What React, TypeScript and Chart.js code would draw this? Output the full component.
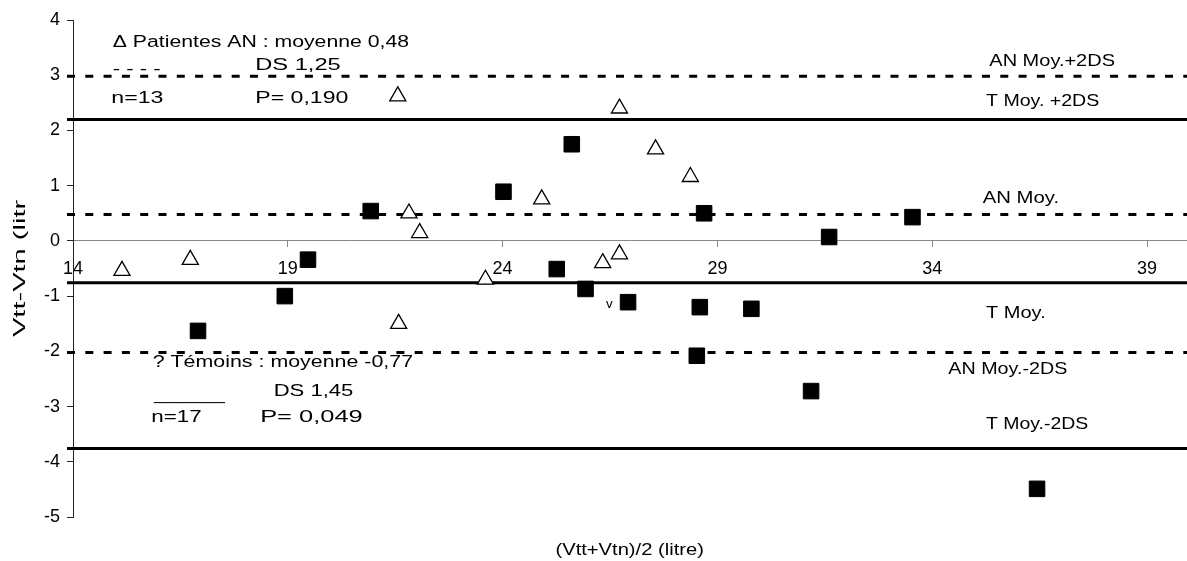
import React, { useEffect, useRef } from 'react';
import { Chart, registerables } from 'chart.js';

Chart.register(...registerables);

// Patientes AN (open triangles)
const anX = [15.14, 16.73, 21.56, 21.58, 21.82, 22.07, 23.6, 24.91, 26.33, 26.72, 26.72, 27.56, 28.37];
const anY = [-0.54, -0.34, 2.62, -1.5, 0.5, 0.145, -0.7, 0.755, -0.4, 2.4, -0.24, 1.66, 1.16];

// Témoins (filled squares)
const tX = [16.91, 18.93, 19.47, 20.93, 24.02, 25.61, 25.26, 25.93, 26.92, 28.69, 28.59, 29.79, 28.52, 31.6, 31.18, 33.54, 36.44];
const tY = [-1.63, -1.0, -0.34, 0.54, 0.89, 1.75, -0.51, -0.87, -1.11, 0.5, -1.2, -1.23, -2.08, 0.07, -2.72, 0.43, -4.49];

// Reference lines (mean / mean ± 2 SD)
const refLabels = ['AN Moy.+2DS', 'T Moy. +2DS', 'AN Moy.', 'T Moy.', 'AN Moy.-2DS', 'T Moy.-2DS'];
const refValues = [2.98, 2.2, 0.48, -0.76, -2.02, -3.76];
const refDashed = [true, false, true, false, true, false];
const lineXStart = 13.86;
const lineXEnd = 39.93;

// Axes
const xTicks = [14, 19, 24, 29, 34, 39];
const xMin = 14;
const xMax = 39.93;
const yMin = -5;
const yMax = 4;
const yStep = 1;

const xTitle = '(Vtt+Vtn)/2 (litre)';
const yTitle = 'Vtt-Vtn (litre)';

const anText = ['\u0394 Patientes AN : moyenne 0,48', '- - - -', 'DS 1,25', 'n=13', 'P= 0,190'];
const tText = ['? T\u00e9moins : moyenne -0,77', '______', 'DS 1,45', 'n=17', 'P= 0,049'];

const FONT = '"Liberation Sans", Arial, sans-serif';

function fitText(ctx: CanvasRenderingContext2D, text: string, left: number, right: number, baseline: number, size: number) {
  ctx.save();
  ctx.font = `${size}px ${FONT}`;
  ctx.textAlign = 'left';
  ctx.textBaseline = 'alphabetic';
  const m = ctx.measureText(text);
  const inkW = m.actualBoundingBoxRight + m.actualBoundingBoxLeft;
  const sx = inkW > 0 ? (right - left) / inkW : 1;
  ctx.translate(left, baseline);
  ctx.scale(sx, 1);
  ctx.fillStyle = '#000';
  ctx.fillText(text, m.actualBoundingBoxLeft, 0);
  ctx.restore();
}

const annotPlugin = {
  id: 'annotText',
  afterDatasetsDraw(chart: any) {
    const ctx: CanvasRenderingContext2D = chart.ctx;
    // AN block
    fitText(ctx, anText[0], 112.7, 409, 46.7, 16.3);
    fitText(ctx, anText[1], 112.7, 160, 74.4, 16.3);
    fitText(ctx, anText[2], 256.7, 340.7, 70, 16.3);
    fitText(ctx, anText[3], 112.7, 163.3, 103.3, 16.3);
    fitText(ctx, anText[4], 256.7, 348.3, 103.3, 16.3);
    // Témoins block
    fitText(ctx, tText[0], 152.7, 413, 367.3, 16.3);
    fitText(ctx, tText[1], 152.7, 226, 400.3, 16.3);
    fitText(ctx, tText[2], 275, 353.3, 395.7, 16.3);
    fitText(ctx, tText[3], 152.7, 201.7, 422.3, 16.3);
    fitText(ctx, tText[4], 261.7, 362.7, 422.3, 16.3);
    // right labels for reference lines
    const pos = [
      [989.3, 1115, 66],
      [986, 1099.3, 106],
      [982.7, 1058.3, 203.3],
      [986, 1045, 318.3],
      [948.3, 1067.3, 374],
      [986, 1088.3, 429.3],
    ];
    refLabels.forEach((lab, i) => fitText(ctx, lab, pos[i][0], pos[i][1], pos[i][2], 16.5));
    // stray mark
    fitText(ctx, 'v', 606, 612.7, 308.3, 12);
    // x title
    fitText(ctx, xTitle, 556.7, 703.3, 555, 16.5);
    // y title (rotated, clipped at top)
    ctx.save();
    ctx.beginPath();
    ctx.rect(0, 199, 60, 362);
    ctx.clip();
    ctx.font = `16.5px ${FONT}`;
    const part = ctx.measureText('Vtt-Vtn (litr');
    const inkW = part.actualBoundingBoxRight + part.actualBoundingBoxLeft;
    const sx = 138 / inkW;
    ctx.translate(25, 337);
    ctx.rotate(-Math.PI / 2);
    ctx.scale(sx, 1);
    ctx.fillStyle = '#000';
    ctx.textAlign = 'left';
    ctx.textBaseline = 'alphabetic';
    ctx.fillText(yTitle, part.actualBoundingBoxLeft, 0);
    ctx.restore();
  },
};

export default function App() {
  const ref = useRef<HTMLCanvasElement | null>(null);

  useEffect(() => {
    if (!ref.current) return;
    const tickFont = { family: FONT, size: 18 };
    const lineSets = refValues.map((v, i) => ({
      label: refLabels[i],
      data: [
        { x: lineXStart, y: v },
        { x: lineXEnd, y: v },
      ],
      showLine: true,
      borderColor: '#000',
      backgroundColor: '#000',
      borderWidth: 3,
      borderDash: refDashed[i] ? [8, 10.3] : [],
      borderCapStyle: 'butt' as const,
      pointRadius: 0,
      pointHoverRadius: 0,
      clip: false as const,
      order: 3,
    }));
    const chart = new Chart(ref.current, {
      type: 'scatter',
      data: {
        datasets: [
          {
            label: 'T\u00e9moins',
            data: tX.map((x, i) => ({ x, y: tY[i] })),
            pointStyle: 'rect',
            pointRadius: 11,
            backgroundColor: '#000',
            borderColor: '#000',
            borderWidth: 1,
            order: 1,
          },
          {
            label: 'Patientes AN',
            data: anX.map((x, i) => ({ x, y: anY[i] })),
            pointStyle: 'triangle',
            pointRadius: 9.3,
            backgroundColor: '#fff',
            borderColor: '#000',
            borderWidth: 1.3,
            order: 2,
          },
          ...lineSets,
        ] as any,
      },
      options: {
        animation: false,
        responsive: false,
        devicePixelRatio: 1,
        layout: { autoPadding: false, padding: { top: 20, bottom: 44, left: 0, right: 0 } },
        plugins: {
          legend: { display: false },
          tooltip: { enabled: false },
          title: { display: false },
        },
        events: [],
        scales: {
          x: {
            type: 'linear',
            min: xMin,
            max: xMax,
            position: { y: 0 } as any,
            afterBuildTicks: (s: any) => {
              s.ticks = xTicks.map((v) => ({ value: v }));
            },
            afterFit: (s: any) => {
              s.paddingLeft = 0;
              s.paddingRight = 0;
            },
            ticks: {
              font: tickFont,
              color: '#000',
              padding: 11,
              autoSkip: false,
              maxRotation: 0,
              callback: (v: any) => String(v),
            },
            grid: { display: true, drawOnChartArea: false, drawTicks: true, tickLength: 6, color: '#888' },
            border: { display: true, color: '#888', width: 1 },
          },
          y: {
            type: 'linear',
            min: yMin,
            max: yMax,
            ticks: {
              stepSize: yStep,
              font: tickFont,
              color: '#000',
              padding: 7,
              callback: (v: any) => String(v),
            },
            grid: { display: true, drawOnChartArea: false, drawTicks: true, tickLength: 6, color: '#222' },
            border: { display: true, color: '#222', width: 1 },
            afterFit: (s: any) => {
              s.width = 73;
            },
          },
        },
      },
      plugins: [annotPlugin],
    });
    return () => chart.destroy();
  }, []);

  return (
    <div style={{ position: 'absolute', left: 0, top: 0, width: 1187, height: 561, background: '#fff' }}>
      <canvas ref={ref} width={1187} height={561} style={{ display: 'block' }} />
    </div>
  );
}
